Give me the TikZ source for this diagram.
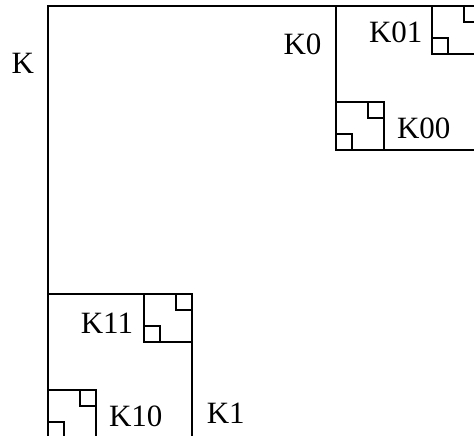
\documentclass[tikz,border=0pt]{standalone}
\usepackage{fontspec}
\setmainfont{Liberation Serif}
\begin{document}
\begin{tikzpicture}[x=1pt,y=-1pt,line width=1.2pt,
  sq/.style={draw=black},
  lbl/.style={anchor=base west,inner sep=0pt,font=\fontsize{31}{31}\selectfont}]
\useasboundingbox (0,0) rectangle (474,436);
\begin{scope}
\clip (0,0) rectangle (474,436);
% K
\draw[sq] (48,6) rectangle (480,438);
% K0
\draw[sq] (336,6) rectangle (480,150);
\draw[sq] (336,102) rectangle (384,150);
\draw[sq] (368,102) rectangle (384,118);
\draw[sq] (336,134) rectangle (352,150);
\draw[sq] (432,6) rectangle (480,54);
\draw[sq] (464,6) rectangle (480,22);
\draw[sq] (432,38) rectangle (448,54);
% K1
\draw[sq] (48,294) rectangle (192,438);
\draw[sq] (144,294) rectangle (192,342);
\draw[sq] (176,294) rectangle (192,310);
\draw[sq] (144,326) rectangle (160,342);
\draw[sq] (48,390) rectangle (96,438);
\draw[sq] (80,390) rectangle (96,406);
\draw[sq] (48,422) rectangle (64,438);
\end{scope}
\node[lbl] (lK) at (11,74) {K};
\node[lbl] (lK0) at (283,55) {K0};
\node[lbl] (lK01) at (368.5,42.7) {K01};
\node[lbl] (lK00) at (396.5,138.3) {K00};
\node[lbl] (lK11) at (80.2,333.3) {K11};
\node[lbl] (lK10) at (108.5,426.7) {K10};
\node[lbl] (lK1) at (206.2,423.3) {K1};
\end{tikzpicture}
\end{document}
